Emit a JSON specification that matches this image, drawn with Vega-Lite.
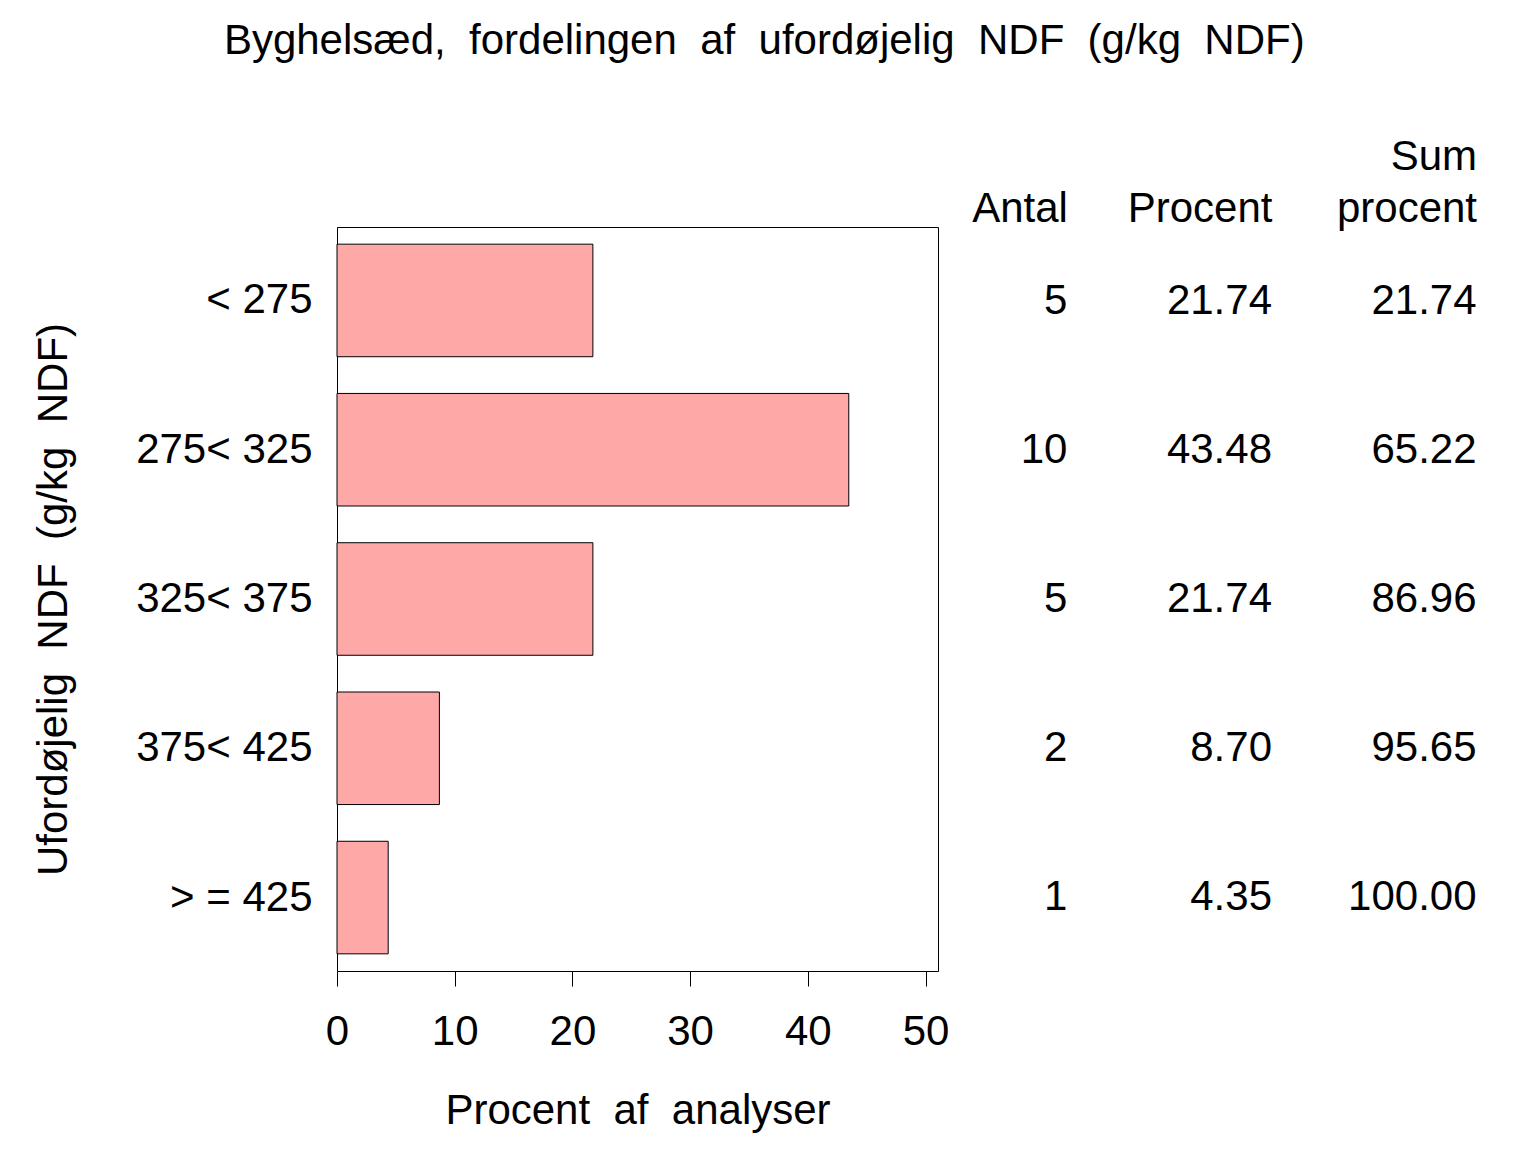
{
  "$schema": "https://vega.github.io/schema/vega-lite/v6.json",
  "background": "white",
  "padding": {"left": 31, "top": 20, "right": 5, "bottom": 5},
  "title": {
    "text": "Byghelsæd,\u00a0 fordelingen\u00a0 af\u00a0 ufordøjelig\u00a0 NDF\u00a0 (g/kg\u00a0 NDF)",
    "fontSize": 42,
    "fontWeight": "normal",
    "font": "Liberation Sans",
    "color": "black",
    "anchor": "middle",
    "offset": 72
  },
  "data": {
    "values": [
      {"gruppe": "< 275", "antal": 5, "procent": 21.74, "sumprocent": 21.74},
      {"gruppe": "275< 325", "antal": 10, "procent": 43.48, "sumprocent": 65.22},
      {"gruppe": "325< 375", "antal": 5, "procent": 21.74, "sumprocent": 86.96},
      {"gruppe": "375< 425", "antal": 2, "procent": 8.7, "sumprocent": 95.65},
      {"gruppe": "> = 425", "antal": 1, "procent": 4.35, "sumprocent": 100.0}
    ]
  },
  "spacing": 21,
  "hconcat": [
    {
      "width": 601,
      "height": 744,
      "mark": {"type": "bar", "fill": "#ffa8a8", "stroke": "black", "strokeWidth": 1},
      "encoding": {
        "y": {
          "field": "gruppe",
          "type": "nominal",
          "sort": null,
          "scale": {"paddingInner": 0.246, "paddingOuter": 0.115},
          "axis": {
            "title": "Ufordøjelig\u00a0 NDF\u00a0 (g/kg\u00a0 NDF)",
            "titleFontSize": 42,
            "titleFontWeight": "normal",
            "titlePadding": 62,
            "labelFontSize": 42,
            "labelPadding": 25,
            "labelLimit": 400,
            "labelOverlap": false,
            "ticks": false,
            "domain": false
          }
        },
        "x": {
          "field": "procent",
          "type": "quantitative",
          "scale": {"domain": [0, 51.06], "nice": false},
          "axis": {
            "values": [0, 10, 20, 30, 40, 50],
            "title": "Procent\u00a0 af\u00a0 analyser",
            "titleFontSize": 42,
            "titleFontWeight": "normal",
            "titlePadding": 38,
            "labelFontSize": 42,
            "labelPadding": 25,
            "labelFlush": false,
            "tickSize": 15,
            "domain": false,
            "grid": false
          }
        }
      }
    },
    {
      "width": 450,
      "height": 744,
      "view": {"stroke": null},
      "encoding": {
        "y": {
          "field": "gruppe",
          "type": "nominal",
          "sort": null,
          "scale": {"paddingInner": 0.246, "paddingOuter": 0.115},
          "axis": null
        }
      },
      "layer": [
        {
          "mark": {"type": "text", "align": "right", "baseline": "middle", "fontSize": 42},
          "encoding": {
            "x": {
              "datum": "Antal",
              "type": "nominal",
              "scale": {"type": "point", "domain": ["Antal", "Procent", "Sum procent"], "padding": 0.1},
              "axis": {
                "orient": "top",
                "title": null,
                "domain": false,
                "ticks": false,
                "labelAngle": 0,
                "labelAlign": "right",
                "labelBaseline": "alphabetic",
                "labelFontSize": 42,
                "labelPadding": 58,
                "labelLineHeight": 52,
                "labelOverlap": false,
                "labelLimit": 400,
                "labelExpr": "datum.value == 'Sum procent' ? ['Sum', 'procent'] : ['', datum.value]"
              }
            },
            "text": {"field": "antal", "type": "quantitative", "format": "d"}
          }
        },
        {
          "mark": {"type": "text", "align": "right", "baseline": "middle", "fontSize": 42},
          "encoding": {
            "x": {"datum": "Procent", "type": "nominal"},
            "text": {"field": "procent", "type": "quantitative", "format": ".2f"}
          }
        },
        {
          "mark": {"type": "text", "align": "right", "baseline": "middle", "fontSize": 42},
          "encoding": {
            "x": {"datum": "Sum procent", "type": "nominal"},
            "text": {"field": "sumprocent", "type": "quantitative", "format": ".2f"}
          }
        }
      ]
    }
  ],
  "config": {
    "font": "Liberation Sans",
    "view": {"stroke": "black", "strokeWidth": 1},
    "axis": {"labelColor": "black", "titleColor": "black", "tickColor": "black", "labelFont": "Liberation Sans", "titleFont": "Liberation Sans"},
    "text": {"color": "black"}
  }
}
